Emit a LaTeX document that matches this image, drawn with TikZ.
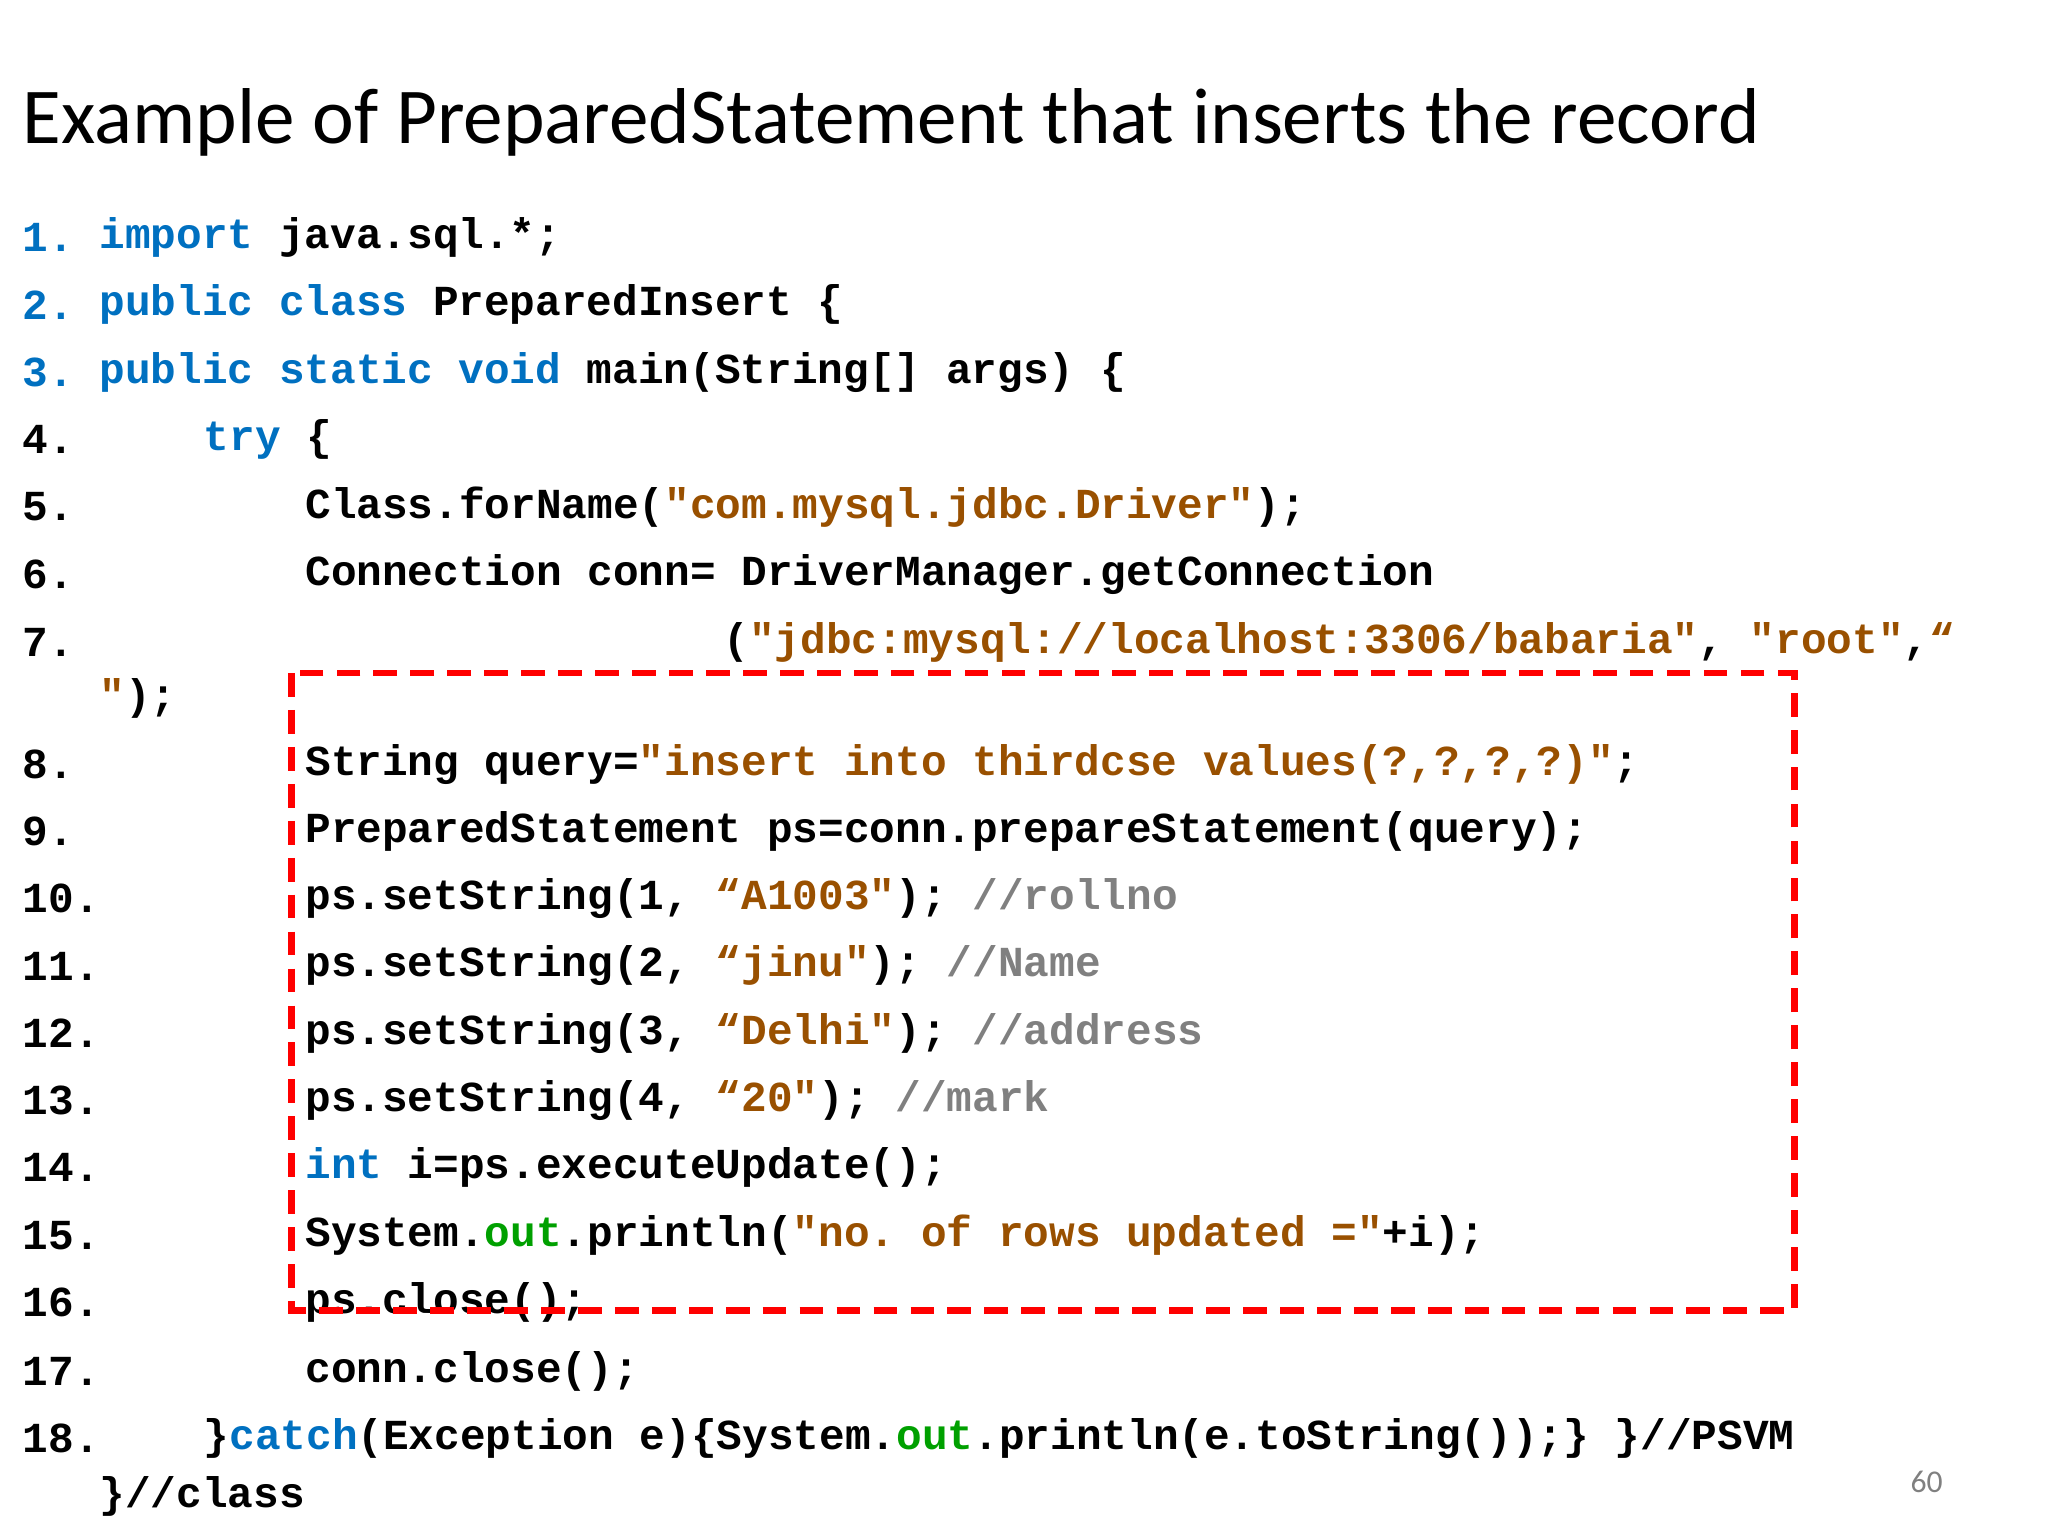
\documentclass[tikz,border=0pt]{standalone}
\usepackage{fontspec}
\setmainfont{Carlito}
\setmonofont{Liberation Mono}
\definecolor{kwc}{RGB}{0,112,192}
\definecolor{stc}{RGB}{153,80,0}
\definecolor{cmc}{RGB}{128,128,128}
\definecolor{grc}{RGB}{0,160,0}
\newcommand{\kw}[1]{\textcolor{kwc}{#1}}
\newcommand{\stx}[1]{\textcolor{stc}{#1}}
\newcommand{\cmx}[1]{\textcolor{cmc}{#1}}
\newcommand{\grx}[1]{\textcolor{grc}{#1}}
\begin{document}
\begin{tikzpicture}[x=0.5pt,y=-0.5pt,
  code/.style={anchor=west,inner sep=0pt,font=\ttfamily\bfseries\fontsize{16.2}{18}\selectfont},
  num/.style={code}]
\useasboundingbox (0,0) rectangle (1552,1164);
\node[anchor=west,inner sep=0pt,font=\fontsize{30}{34}\selectfont] (title) at (17,93) {Example of PreparedStatement that inserts the record};
\node[num] (n1) at (17,180) {\kw{1.}};
\node[num] (n2) at (17,231) {\kw{2.}};
\node[num] (n3) at (17,282) {\kw{3.}};
\node[num] (n4) at (17,333) {4.};
\node[num] (n5) at (17,384) {5.};
\node[num] (n6) at (17,435) {6.};
\node[num] (n7) at (17,487) {7.};
\node[num] (n8) at (17,579) {8.};
\node[num] (n9) at (17,630) {9.};
\node[num] (n10) at (17,681) {10.};
\node[num] (n11) at (17,732) {11.};
\node[num] (n12) at (17,783) {12.};
\node[num] (n13) at (17,834) {13.};
\node[num] (n14) at (17,885) {14.};
\node[num] (n15) at (17,936) {15.};
\node[num] (n16) at (17,987) {16.};
\node[num] (n17) at (17,1039) {17.};
\node[num] (n18) at (17,1090) {18.};
\node[code] (l1) at (75,180) {\kw{import} java.sql.*;};
\node[code] (l2) at (75,231) {\kw{public class} PreparedInsert \{};
\node[code] (l3) at (75,282) {\kw{public static void} main(String[] args) \{};
\node[code] (l4) at (154,333) {\kw{try} \{};
\node[code] (l5) at (231,384) {Class.forName(\stx{"com.mysql.jdbc.Driver"});};
\node[code] (l6) at (231,435) {Connection conn= DriverManager.getConnection};
\node[code] (l7) at (548,487) {(\stx{"jdbc:mysql://localhost:3306/babaria"}, \stx{"root"},\stx{“}};
\node[code] (l7b) at (75,529) {\stx{"});};
\node[code] (l8) at (231,579) {String query=\stx{"insert into thirdcse values(?,?,?,?)"};};
\node[code] (l9) at (231,630) {PreparedStatement ps=conn.prepareStatement(query);};
\node[code] (l10) at (231,681) {ps.setString(1, \stx{“A1003"}); \cmx{//rollno}};
\node[code] (l11) at (231,732) {ps.setString(2, \stx{“jinu"}); \cmx{//Name}};
\node[code] (l12) at (231,783) {ps.setString(3, \stx{“Delhi"}); \cmx{//address}};
\node[code] (l13) at (231,834) {ps.setString(4, \stx{“20"}); \cmx{//mark}};
\node[code] (l14) at (231,885) {\kw{int} i=ps.executeUpdate();};
\node[code] (l15) at (231,936) {System.\grx{out}.println(\stx{"no. of rows updated ="}+i);};
\node[code] (l16) at (231,987) {ps.close();};
\node[code] (l17) at (231,1039) {conn.close();};
\node[code] (l18) at (154,1090) {\}\kw{catch}(Exception e)\{System.\grx{out}.println(e.toString());\} \}//PSVM};
\node[code] (l18b) at (75,1134) {\}//class};
\draw[red,line width=2.6pt,dash pattern=on 9pt off 5pt] (221,510) rectangle (1360,993);
\node[anchor=center,inner sep=0pt,text=cmc,font=\fontsize{12}{14}\selectfont] (pg) at (1460,1123) {60};
\end{tikzpicture}
\end{document}
